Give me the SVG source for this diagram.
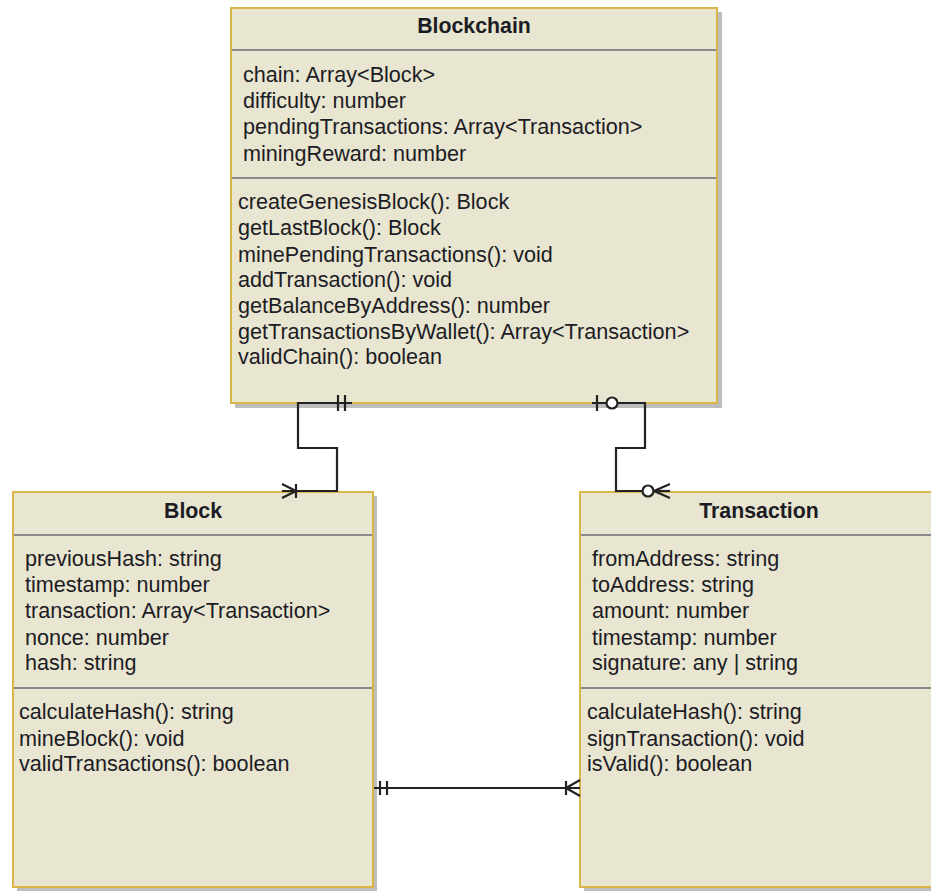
<svg xmlns="http://www.w3.org/2000/svg" width="931" height="891" viewBox="0 0 931 891">
<style>
.box{fill:#E8E5D0;stroke:#D9B645;stroke-width:2}
.sh{fill:#BDBDBD}
.sep{stroke:#8A8A8A;stroke-width:2}
.t{font-family:"Liberation Sans",Arial,sans-serif;font-size:21.6px;fill:#1C1C24}
.h{font-weight:bold;text-anchor:middle;font-size:21.3px}
.c{fill:none;stroke:#222;stroke-width:2.2}
.w{fill:#fff;stroke:#222;stroke-width:2.2}
</style>
<rect width="931" height="891" fill="#fff"/>
<g id="Blockchain">
<rect class="sh" x="235" y="12" width="487" height="396"/>
<rect class="box" x="231" y="8" width="486" height="395"/>
<line class="sep" x1="232" y1="50" x2="716" y2="50"/>
<line class="sep" x1="232" y1="178" x2="716" y2="178"/>
<text class="t h" x="474" y="33">Blockchain</text>
<text class="t" x="243" y="82">chain: Array&lt;Block&gt;</text>
<text class="t" x="243" y="108">difficulty: number</text>
<text class="t" x="243" y="134">pendingTransactions: Array&lt;Transaction&gt;</text>
<text class="t" x="243" y="161">miningReward: number</text>
<text class="t" x="238" y="209">createGenesisBlock(): Block</text>
<text class="t" x="238" y="235">getLastBlock(): Block</text>
<text class="t" x="238" y="262">minePendingTransactions(): void</text>
<text class="t" x="238" y="287">addTransaction(): void</text>
<text class="t" x="238" y="313">getBalanceByAddress(): number</text>
<text class="t" x="238" y="339">getTransactionsByWallet(): Array&lt;Transaction&gt;</text>
<text class="t" x="238" y="364">validChain(): boolean</text>
</g>
<g id="Block">
<rect class="sh" x="17" y="496" width="360" height="395"/>
<rect class="box" x="13" y="492" width="360" height="395"/>
<line class="sep" x1="14" y1="535" x2="372" y2="535"/>
<line class="sep" x1="14" y1="688" x2="372" y2="688"/>
<text class="t h" x="193" y="518">Block</text>
<text class="t" x="25" y="566">previousHash: string</text>
<text class="t" x="25" y="592">timestamp: number</text>
<text class="t" x="25" y="618">transaction: Array&lt;Transaction&gt;</text>
<text class="t" x="25" y="645">nonce: number</text>
<text class="t" x="25" y="670">hash: string</text>
<text class="t" x="19" y="719">calculateHash(): string</text>
<text class="t" x="19" y="746">mineBlock(): void</text>
<text class="t" x="19" y="771">validTransactions(): boolean</text>
</g>
<g id="Transaction">
<rect class="sh" x="584" y="496" width="360" height="395"/>
<rect class="box" x="580" y="492" width="360" height="395"/>
<line class="sep" x1="581" y1="535" x2="939" y2="535"/>
<line class="sep" x1="581" y1="688" x2="939" y2="688"/>
<text class="t h" x="759" y="518">Transaction</text>
<text class="t" x="592" y="566">fromAddress: string</text>
<text class="t" x="592" y="592">toAddress: string</text>
<text class="t" x="592" y="618">amount: number</text>
<text class="t" x="592" y="645">timestamp: number</text>
<text class="t" x="592" y="670">signature: any | string</text>
<text class="t" x="587" y="719">calculateHash(): string</text>
<text class="t" x="587" y="746">signTransaction(): void</text>
<text class="t" x="587" y="771">isValid(): boolean</text>
</g>
<g id="connectors">
<polyline class="c" points="352,403 298,403 298,448 337,448 337,491 282,491"/>
<line class="c" x1="338" y1="395" x2="338" y2="411"/>
<line class="c" x1="345" y1="395" x2="345" y2="411"/>
<line class="c" x1="296" y1="484" x2="296" y2="498"/>
<polyline class="c" points="282,484 296,491 282,498"/>
<polyline class="c" points="592,403 645,403 645,448 616,448 616,491 643,491"/>
<line class="c" x1="597" y1="395" x2="597" y2="411"/>
<circle class="w" cx="612" cy="403" r="5.5"/>
<polyline class="c" points="670,484 654,491 670,498"/>
<line class="c" x1="654" y1="491" x2="670" y2="491"/>
<circle class="w" cx="648" cy="491" r="5.5"/>
<line class="c" x1="374" y1="788" x2="580" y2="788"/>
<line class="c" x1="380" y1="781" x2="380" y2="795"/>
<line class="c" x1="387" y1="781" x2="387" y2="795"/>
<line class="c" x1="566" y1="781" x2="566" y2="795"/>
<polyline class="c" points="580,780 566,788 580,796"/>
</g>
</svg>
